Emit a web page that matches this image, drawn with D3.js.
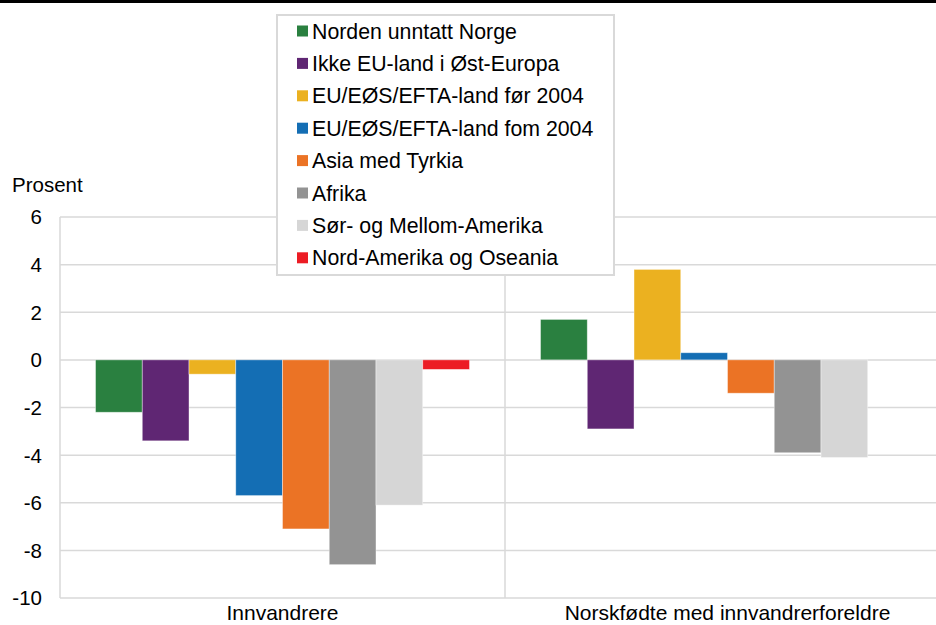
<!DOCTYPE html>
<html>
<head>
<meta charset="utf-8">
<script src="https://cdn.jsdelivr.net/npm/d3@7"></script>
<style>
  html, body { margin: 0; padding: 0; background: #fff; }
  svg { display: block; font-family: "Liberation Sans", Arial, sans-serif; }
</style>
</head>
<body>
<svg id="chart" width="936" height="625"></svg>
<script>
const categories = ["Innvandrere", "Norskfødte med innvandrerforeldre"];
const series = [
  "Norden unntatt Norge",
  "Ikke EU-land i Øst-Europa",
  "EU/EØS/EFTA-land før 2004",
  "EU/EØS/EFTA-land fom 2004",
  "Asia med Tyrkia",
  "Afrika",
  "Sør- og Mellom-Amerika",
  "Nord-Amerika og Oseania"
];
const colors = ["#2a8040", "#5f2673", "#ebb120", "#146eb4", "#eb7325", "#939393", "#d6d6d6", "#ec1c24"];
const innvandrere = [-2.2, -3.4, -0.6, -5.7, -7.1, -8.6, -6.1, -0.4];
const norskfodte = [1.7, -2.9, 3.8, 0.3, -1.4, -3.9, -4.1, null];
const yTicks = [-10, -8, -6, -4, -2, 0, 2, 4, 6];
const yLabel = "Prosent";

const values = [innvandrere, norskfodte];
const svg = d3.select("#chart");

// top black rule
svg.append("rect").attr("x", 0).attr("y", 0).attr("width", 936).attr("height", 3).attr("fill", "#000");

const y = d3.scaleLinear().domain([-10, 6]).range([598, 217]);
const x0 = d3.scaleBand().domain(categories).range([60, 950]).padding(0);
const x1 = d3.scaleBand().domain(series).range([0, x0.bandwidth()]).paddingInner(0).paddingOuter(0.76);

const grid = "#d9d9d9";
// gridlines
svg.append("g").selectAll("line").data(yTicks).join("line")
  .attr("x1", 60).attr("x2", 950)
  .attr("y1", d => y(d)).attr("y2", d => y(d))
  .attr("stroke", grid).attr("stroke-width", 1.5);
// vertical lines: left axis and category separator
svg.append("g").selectAll("line").data([60, x0(categories[1])]).join("line")
  .attr("x1", d => d).attr("x2", d => d)
  .attr("y1", y(6)).attr("y2", y(-10))
  .attr("stroke", grid).attr("stroke-width", 1.5);

// y tick labels
svg.append("g").selectAll("text").data(yTicks).join("text")
  .attr("x", 42).attr("y", d => y(d)).attr("dy", "0.36em")
  .attr("text-anchor", "end").attr("font-size", 20.5).attr("fill", "#000")
  .text(d => d);

svg.append("text").attr("x", 12).attr("y", 192).attr("font-size", 20.5).attr("fill", "#000").text(yLabel);

// bars
const bars = [];
categories.forEach((c, ci) => {
  series.forEach((s, si) => {
    const v = values[ci][si];
    if (v !== null) bars.push({ c, s, v, color: colors[si] });
  });
});
svg.append("g").selectAll("rect").data(bars).join("rect")
  .attr("x", d => x0(d.c) + x1(d.s))
  .attr("width", x1.bandwidth())
  .attr("y", d => y(Math.max(0, d.v)))
  .attr("height", d => Math.abs(y(d.v) - y(0)))
  .attr("fill", d => d.color)
  .attr("stroke", "#ffffff").attr("stroke-opacity", 0.5).attr("stroke-width", 0.8);

// category labels
svg.append("g").selectAll("text").data(categories).join("text")
  .attr("x", d => x0(d) + x0.bandwidth() / 2 - 0)
  .attr("y", 620)
  .attr("text-anchor", "middle").attr("font-size", 21).attr("fill", "#000")
  .text(d => d);

// legend
const lg = svg.append("g");
lg.append("rect").attr("x", 277).attr("y", 15).attr("width", 337).attr("height", 260)
  .attr("fill", "#fff").attr("stroke", grid).attr("stroke-width", 2);
const items = lg.selectAll("g.item").data(series).join("g").attr("class", "item")
  .attr("transform", (d, i) => `translate(297, ${31 + i * 32.4})`);
items.append("rect").attr("x", 0).attr("y", -5.5).attr("width", 11).attr("height", 11)
  .attr("fill", (d, i) => colors[i]);
items.append("text").attr("x", 15).attr("y", 0).attr("dy", "0.36em")
  .attr("font-size", 21.3).attr("fill", "#000").text(d => d);
</script>
</body>
</html>
